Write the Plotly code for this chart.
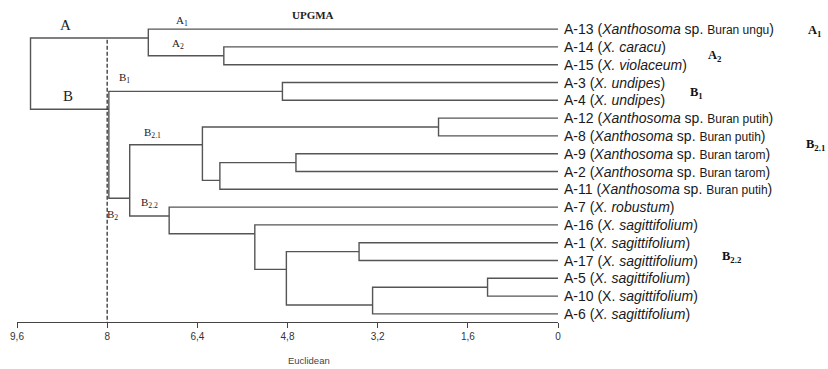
import plotly.graph_objects as go

# ---------------- data ----------------
leaf_names = ["A-13", "A-14", "A-15", "A-3", "A-4", "A-12", "A-8", "A-9", "A-2",
              "A-11", "A-7", "A-16", "A-1", "A-17", "A-5", "A-10", "A-6"]

SM = "<span style='font-size:12px'>{}</span>"
leaf_species = [
    "(<i>Xanthosoma</i> sp. " + SM.format("Buran ungu") + ")",
    "(<i>X. caracu</i>)",
    "(<i>X. violaceum</i>)",
    "(<i>X. undipes</i>)",
    "(<i>X. undipes</i>)",
    "(<i>Xanthosoma</i> sp. " + SM.format("Buran putih") + ")",
    "(<i>Xanthosoma</i> sp. " + SM.format("Buran putih") + ")",
    "(<i>Xanthosoma</i> sp. " + SM.format("Buran tarom") + ")",
    "(<i>Xanthosoma</i> sp. " + SM.format("Buran tarom") + ")",
    "(<i>Xanthosoma</i> sp. " + SM.format("Buran putih") + ")",
    "(<i>X. robustum</i>)",
    "(<i>X. sagittifolium</i>)",
    "(<i>X. sagittifolium</i>)",
    "(<i>X. sagittifolium</i>)",
    "(<i>X. sagittifolium</i>)",
    "(X. <i>sagittifolium</i>)",
    "(<i>X. sagittifolium</i>)",
]

# UPGMA merges (children and Euclidean distance of the join)
merge_left = ["A-5", "A-12", "m0", "A-1", "A-9", "m3", "A-3", "A-16", "A-14",
              "m4", "m1", "A-7", "A-13", "m10", "m6", "m12"]
merge_right = ["A-10", "A-8", "A-6", "A-17", "A-2", "m2", "A-4", "m5", "A-15",
               "A-11", "m9", "m7", "m8", "m11", "m13", "m14"]
merge_height = [1.25, 2.12, 3.29, 3.53, 4.65, 4.82, 4.89, 5.38, 5.93,
                6.00, 6.31, 6.90, 7.27, 7.60, 7.97, 9.36]

cut_value = 8.0
tick_vals = [9.6, 8, 6.4, 4.8, 3.2, 1.6, 0]
tick_text = ["9,6", "8", "6,4", "4,8", "3,2", "1,6", "0"]

# ---------------- tree layout ----------------
span, ypos, hgt = {}, {}, {}
for i, n in enumerate(leaf_names):
    span[n] = (i, i)
    ypos[n] = i
    hgt[n] = 0.0
for k, (l, r, h) in enumerate(zip(merge_left, merge_right, merge_height)):
    name = f"m{k}"
    span[name] = (span[l][0], span[r][1])
    ypos[name] = (span[l][1] + span[r][0]) / 2.0
    hgt[name] = h

xs, ys = [], []
for k, (l, r, h) in enumerate(zip(merge_left, merge_right, merge_height)):
    xs += [hgt[l], h, h, hgt[r], None]
    ys += [ypos[l], ypos[l], ypos[r], ypos[r], None]

root = f"m{len(merge_height) - 1}"

TOP, BOTTOM_PX, SPACING, FIRST = 10, 322, 17.8, 29.1
PLOT_H = BOTTOM_PX - TOP
y_bottom = (BOTTOM_PX - FIRST) / SPACING
y_top = (TOP - FIRST) / SPACING

fig = go.Figure()
fig.add_trace(go.Scatter(x=xs, y=ys, mode="lines",
                         line=dict(color="#555555", width=1.4),
                         hoverinfo="skip", showlegend=False, cliponaxis=False))

fig.add_shape(type="line", xref="x", yref="y", x0=cut_value, x1=cut_value,
              y0=ypos["m12"] + 0.1, y1=y_bottom,
              line=dict(color="#333333", width=1.3, dash="4px,2px"))

ann = []
sans = "Liberation Sans, Arial, sans-serif"
serif = "Liberation Serif, Times New Roman, serif"
for i, n in enumerate(leaf_names):
    ann.append(dict(x=0, y=i, xref="x", yref="y", xanchor="left", yanchor="middle",
                    xshift=4, showarrow=False, text=n + " " + leaf_species[i],
                    font=dict(family=sans, size=14, color="#1a1a1a")))

# cluster labels inside the tree (anchored to node positions)
tree_labels = [
    ("A", hgt[root], ypos["m12"], 35, 13, 15),
    ("B", hgt[root], ypos["m14"], 37, 13, 15),
    ("A<sub>1</sub>", hgt["m12"], ypos["A-13"], 34, 8, 11),
    ("A<sub>2</sub>", hgt["m12"], ypos["m8"], 30, 12, 11),
    ("B<sub>1</sub>", hgt["m14"], ypos["m6"], 16, 13, 11),
    ("B<sub>2.1</sub>", hgt["m13"], ypos["m10"], 23, 12, 11),
    ("B<sub>2.2</sub>", hgt["m13"], ypos["m11"], 20, 13, 11),
    ("B<sub>2</sub>", hgt["m14"], ypos["m13"], 4, -17, 11),
]
for t, x, y, dx, dy, s in tree_labels:
    ann.append(dict(x=x, y=y, xref="x", yref="y", xanchor="center", yanchor="middle",
                    xshift=dx, yshift=dy, showarrow=False, text=t,
                    font=dict(family=serif, size=s, color="#222222")))

# group labels on the right
right_labels = [
    ("A<sub>1</sub>", 1.474, 0.1),
    ("A<sub>2</sub>", 1.289, 1.5),
    ("B<sub>1</sub>", 1.2555, 3.6),
    ("B<sub>2.1</sub>", 1.476, 6.5),
    ("B<sub>2.2</sub>", 1.320, 12.8),
]
for t, x, y in right_labels:
    ann.append(dict(x=x, y=y, xref="paper", yref="y", xanchor="center", yanchor="middle",
                    showarrow=False, text="<b>" + t + "</b>",
                    font=dict(family=serif, size=12.5, color="#111111")))

ann.append(dict(x=0.548, y=(BOTTOM_PX - 15) / PLOT_H, xref="paper", yref="paper",
                yanchor="middle", showarrow=False,
                text="<b>UPGMA</b>", font=dict(family=serif, size=11, color="#222222")))
ann.append(dict(x=0.539, y=-(360 - BOTTOM_PX) / PLOT_H, xref="paper", yref="paper",
                yanchor="middle", showarrow=False,
                text="Euclidean", font=dict(family=sans, size=9.5, color="#444444")))

fig.update_layout(
    width=828, height=369,
    margin=dict(l=14, r=270, t=TOP, b=369 - BOTTOM_PX),
    plot_bgcolor="white", paper_bgcolor="white",
    annotations=ann,
    xaxis=dict(range=[9.6, 0], tickvals=tick_vals, ticktext=tick_text,
               showline=True, linecolor="#444444", linewidth=1.2,
               ticks="outside", ticklen=5, tickcolor="#444444", tickwidth=1.2,
               showgrid=False, zeroline=False,
               tickfont=dict(family=sans, size=10, color="#333333")),
    yaxis=dict(range=[y_bottom, y_top], visible=False, showgrid=False, zeroline=False),
)

fig.write_html("out.html", config={"displayModeBar": False},
               post_script="document.body.style.margin='0';")
